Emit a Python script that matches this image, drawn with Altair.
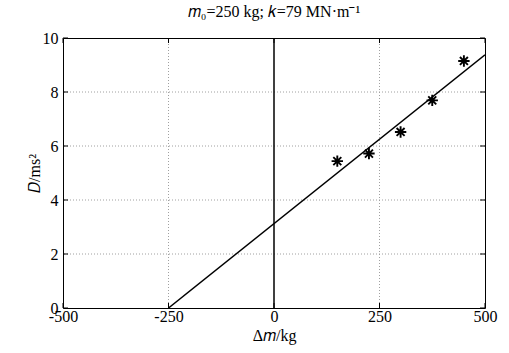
import altair as alt
import pandas as pd

# data
dm = [150, 225, 300, 375, 450]
D = [5.44, 5.72, 6.52, 7.69, 9.15]
fit_x = [-250, 500]
fit_y = [0, 9.38]
x_ticks = [-500, -250, 0, 250, 500]
y_ticks = [0, 2, 4, 6, 8, 10]
x_grid = [-250, 250]
y_grid = [2, 4, 6, 8]
zero_line = [0]

W, H = 422, 270
FONT = "Liberation Serif"
xs = alt.Scale(domain=[-500, 500], nice=False, zero=False)
ys = alt.Scale(domain=[0, 10], nice=False, zero=False)

xaxis = alt.Axis(values=x_ticks, labelExpr="'' + datum.value", labelPadding=0,
                 title="Δ𝑚/kg", titlePadding=3)
yaxis = alt.Axis(values=y_ticks, labelExpr="'' + datum.value", labelPadding=5,
                 title="𝐷/ms²", titlePadding=0)

pts = pd.DataFrame({"dm": dm, "D": D})
fit = pd.DataFrame({"dm": fit_x, "D": fit_y})
xg = pd.DataFrame({"dm": x_grid})
yg = pd.DataFrame({"D": y_grid})
zl = pd.DataFrame({"dm": zero_line})
xt = pd.DataFrame({"dm": x_ticks})
yt = pd.DataFrame({"D": y_ticks})

X = lambda: alt.X("dm:Q", scale=xs, axis=xaxis)
Y = lambda: alt.Y("D:Q", scale=ys, axis=yaxis)

grid_style = dict(color="#a0a0a0", strokeDash=[1, 2], strokeWidth=1)
vgrid = alt.Chart(xg).mark_rule(**grid_style).encode(x=X())
hgrid = alt.Chart(yg).mark_rule(**grid_style).encode(y=Y())
zero = alt.Chart(zl).mark_rule(color="black", strokeWidth=1.5).encode(x=X())

tk = dict(color="black", strokeWidth=1)
tb = alt.Chart(xt).mark_rule(**tk).encode(x=X(), y=alt.value(H), y2=alt.value(H - 5))
tt = alt.Chart(xt).mark_rule(**tk).encode(x=X(), y=alt.value(0), y2=alt.value(5))
tl = alt.Chart(yt).mark_rule(**tk).encode(y=Y(), x=alt.value(0), x2=alt.value(5))
tr = alt.Chart(yt).mark_rule(**tk).encode(y=Y(), x=alt.value(W), x2=alt.value(W - 5))

line = alt.Chart(fit).mark_line(color="black", strokeWidth=1.5, clip=True).encode(x=X(), y=Y())

star = "M-1,0L1,0M0,-1L0,1M-0.7,-0.7L0.7,0.7M-0.7,0.7L0.7,-0.7"
points = alt.Chart(pts).mark_point(shape=star, filled=False, color="black",
                                   strokeWidth=1.9, size=130, opacity=1).encode(x=X(), y=Y())

chart = alt.layer(vgrid, hgrid, zero, tb, tt, tl, tr, line, points).properties(
    width=W, height=H, background="white",
    title=alt.TitleParams("𝑚₀=250 kg; 𝑘=79 MN·m⁻¹", font=FONT, fontSize=16,
                          fontWeight="normal", color="black", anchor="middle", offset=10),
    autosize=alt.AutoSizeParams(type="none"),
    padding={"left": 63, "top": 38, "right": 24, "bottom": 45},
).configure_view(stroke="black", strokeWidth=1).configure_axis(
    grid=False, ticks=False, domain=False,
    labelFont=FONT, labelFontSize=16, labelColor="black",
    labelFlush=False, labelOverlap=False,
    titleFont=FONT, titleFontSize=16, titleFontWeight="normal", titleColor="black",
)

chart.save("out.html", embed_options={"renderer": "svg", "actions": False})
